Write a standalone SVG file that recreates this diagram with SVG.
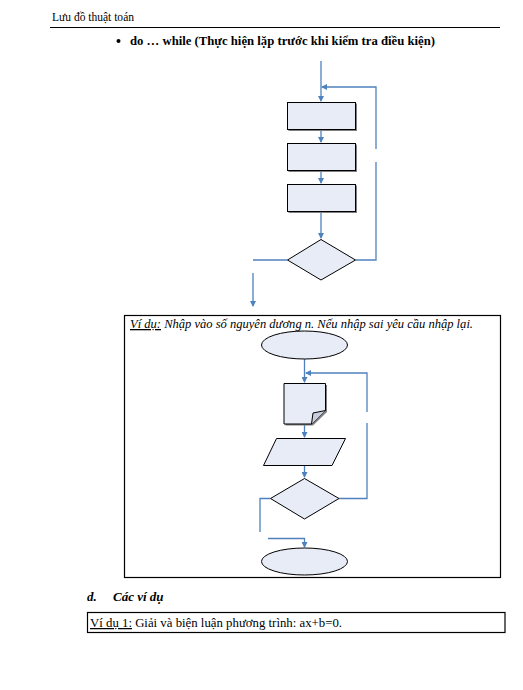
<svg xmlns="http://www.w3.org/2000/svg" width="523" height="690" viewBox="0 0 523 690">
<defs>
<style>
.t{font-family:"Liberation Serif","Times New Roman",serif;fill:#000}
.c{fill:none;stroke:#4f81bd;stroke-width:1.3}
.s{fill:#e8ecf7;stroke:#000;stroke-width:1}
.sh{fill:#808080;stroke:none}
</style>
<marker id="a" markerWidth="6" markerHeight="6" refX="5" refY="3" orient="auto" markerUnits="userSpaceOnUse">
<path d="M0,0 L6,3 L0,6 Z" fill="#4f81bd"/>
</marker>
</defs>
<rect width="523" height="690" fill="#fff"/>
<text class="t" x="52" y="21" font-size="12" textLength="82" lengthAdjust="spacingAndGlyphs">Lưu đồ thuật toán</text>
<line x1="50" y1="27.5" x2="500" y2="27.5" stroke="#000" stroke-width="1.2"/>
<circle cx="118.5" cy="41" r="2" fill="#000"/>
<text class="t" x="130" y="45" font-size="13" font-weight="bold" textLength="305" lengthAdjust="spacingAndGlyphs">do …  while (Thực hiện lặp trước khi kiểm tra điều kiện)</text>

<g id="connectors">
<line class="c" x1="321" y1="61" x2="321" y2="101" marker-end="url(#a)"/>
<polyline class="c" points="355.5,260 376,260 376,162"/>
<polyline class="c" points="376,149 376,87 322,87" marker-end="url(#a)"/>
<line class="c" x1="321" y1="130" x2="321" y2="142" marker-end="url(#a)"/>
<line class="c" x1="321" y1="171" x2="321" y2="183" marker-end="url(#a)"/>
<line class="c" x1="321" y1="212" x2="321" y2="238" marker-end="url(#a)"/>
<polyline class="c" points="287.5,260 253,260"/>
<line class="c" x1="253" y1="273" x2="253" y2="306" marker-end="url(#a)"/>

<line class="c" x1="304.5" y1="359" x2="304.5" y2="382" marker-end="url(#a)"/>
<polyline class="c" points="339,498.5 367,498.5 367,423"/>
<polyline class="c" points="367,412 367,373 306,373" marker-end="url(#a)"/>
<line class="c" x1="304.5" y1="424" x2="304.5" y2="437" marker-end="url(#a)"/>
<line class="c" x1="304.5" y1="465.5" x2="304.5" y2="477" marker-end="url(#a)"/>
<polyline class="c" points="270.5,498.5 260,498.5 260,532"/>
<polyline class="c" points="268,538.5 304.5,538.5 304.5,547" marker-end="url(#a)"/>
</g>

<g id="rect1">
<rect class="sh" x="288.5" y="103.5" width="68.5" height="27.5"/>
<rect class="s" x="287.5" y="102.5" width="68" height="27"/>
</g>
<g id="rect2">
<rect class="sh" x="288.5" y="144.5" width="68.5" height="27.5"/>
<rect class="s" x="287.5" y="143.5" width="68" height="27"/>
</g>
<g id="rect3">
<rect class="sh" x="288.5" y="185.5" width="68.5" height="27.5"/>
<rect class="s" x="287.5" y="184.5" width="68" height="27"/>
</g>
<g id="diamond1">
<polygon class="s" points="321,239.5 355.5,260 321,280 287.5,260"/>
</g>

<g id="example-box">
<rect x="124.5" y="315.5" width="376" height="262" fill="none" stroke="#000" stroke-width="1.2"/>
<text class="t" x="130" y="328" font-size="13" font-style="italic" textLength="343" lengthAdjust="spacingAndGlyphs"><tspan text-decoration="underline">Ví dụ:</tspan> Nhập vào số nguyên dương n. Nếu nhập sai yêu cầu nhập lại.</text>
</g>
<g id="start">
<ellipse class="s" cx="304.5" cy="345" rx="43" ry="14"/>
</g>
<g id="document">
<path class="sh" d="M285.5,385 H327 V412 L313,425.5 H285.5 Z"/>
<path class="s" d="M284,383.5 H325.5 V410.5 L311.5,424 H284 Z"/>
<path fill="#c8cede" stroke="#000" stroke-width="1" d="M311.5,424 L313,413 L325.5,410.5"/>
</g>
<g id="input">
<polygon class="s" points="276.5,438.5 345.5,438.5 332,465.5 263.5,465.5"/>
</g>
<g id="diamond2">
<polygon class="s" points="304.5,478.5 339,498.5 304.5,519 270.5,498.5"/>
</g>
<g id="end">
<ellipse class="s" cx="304.5" cy="561.5" rx="43" ry="13.5"/>
</g>

<text class="t" x="87" y="601" font-size="13" font-weight="bold" font-style="italic">d.</text>
<text class="t" x="113" y="601" font-size="13" font-weight="bold" font-style="italic">Các ví dụ</text>
<rect x="87.5" y="612.5" width="417.5" height="20" fill="none" stroke="#000" stroke-width="1.2"/>
<text class="t" x="90" y="627" font-size="12.5" textLength="252" lengthAdjust="spacingAndGlyphs"><tspan text-decoration="underline">Ví dụ 1:</tspan> Giải và biện luận phương trình: ax+b=0.</text>
</svg>
